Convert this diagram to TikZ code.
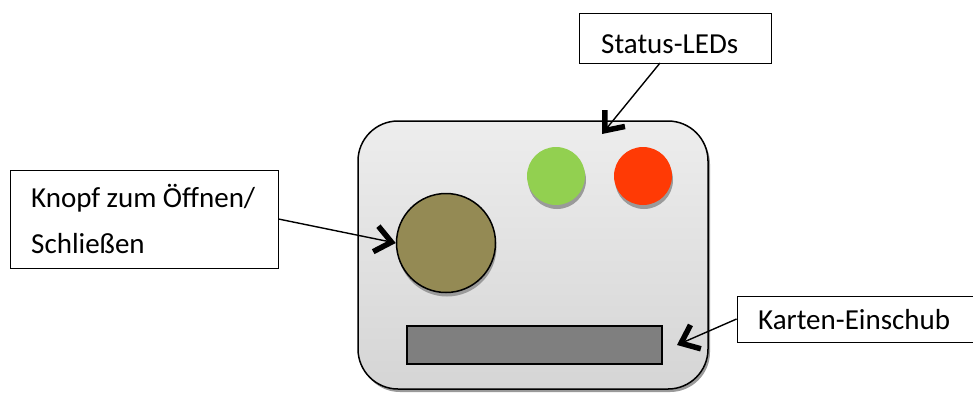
\documentclass[tikz,border=0pt]{standalone}
\usepackage{fontspec}
\setmainfont{Carlito}
\usetikzlibrary{arrows.meta,shadows}
\definecolor{ledgreen}{HTML}{92D050}
\definecolor{ledred}{HTML}{FF3A05}
\definecolor{knobcol}{HTML}{948A54}
\definecolor{slotcol}{HTML}{7F7F7F}
\definecolor{shadowcol}{HTML}{9A9A9A}
\tikzset{
  callout/.style={draw=black, line width=0.9pt, fill=white, inner sep=0pt},
  label text/.style={font=\fontsize{29}{46}\selectfont, inner sep=0pt, anchor=base west, align=left},
  bodybox/.style={draw=black, line width=1.5pt, rounded corners=40pt, top color=gray!14, bottom color=gray!33, inner sep=0pt,
    drop shadow={shadow xshift=2pt, shadow yshift=-3pt, fill=shadowcol, opacity=1}},
  led/.style={circle, inner sep=0pt, minimum size=58pt,
    drop shadow={shadow xshift=1pt, shadow yshift=-4pt, fill=shadowcol, opacity=1}},
  knob/.style={circle, draw=black, line width=1.5pt, fill=knobcol, inner sep=0pt, minimum size=99pt,
    drop shadow={shadow xshift=1pt, shadow yshift=-4pt, fill=shadowcol, opacity=1}},
  slot/.style={draw=black, line width=2pt, fill=slotcol, inner sep=0pt},
  pointer/.style={draw=black, line width=1.4pt, -{Straight Barb[length=16pt, width=26pt, line width=5.5pt]}}
}
\begin{document}
\begin{tikzpicture}[x=1pt, y=-1pt]
\useasboundingbox (0,0) rectangle (973,392);
% device body
\node[bodybox, minimum width=350pt, minimum height=268pt] (body) at (533,255) {};
\node[led, fill=ledgreen] (green) at (556,176) {};
\node[led, fill=ledred] (red) at (643,176) {};
\node[knob] (knob) at (446,243) {};
\node[slot, minimum width=255pt, minimum height=38pt] (slot) at (534.5,345) {};
% callout boxes
\node[callout, minimum width=192pt, minimum height=50pt] (sbox) at (675,38) {};
\node[label text] (stext) at (601,53) {Status-LEDs};
\node[callout, minimum width=268pt, minimum height=98pt] (kbox) at (144,219) {};
\node[label text] (ktext) at (31,253) {Knopf zum Öffnen/\\Schließen};
\node[callout, minimum width=236pt, minimum height=46pt] (cbox) at (855,319) {};
\node[label text] (ctext) at (758,329) {Karten-Einschub};
% pointer tips
\coordinate (ledtip) at (602,134);
\coordinate (slottip) at (677,345);
\coordinate (sfoot) at (660,63);
% connectors
\draw[pointer] (sfoot) -- (ledtip);
\draw[pointer] (kbox.east) -- (knob.west);
\draw[pointer] (cbox.west) -- (slottip);
\end{tikzpicture}
\end{document}
